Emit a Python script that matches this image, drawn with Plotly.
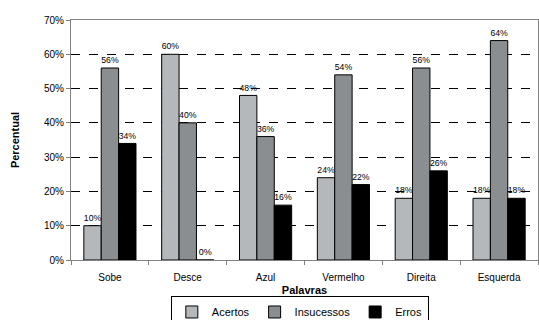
import plotly.graph_objects as go

categories = ["Sobe", "Desce", "Azul", "Vermelho", "Direita", "Esquerda"]
acertos = [10, 60, 48, 24, 18, 18]
insucessos = [56, 40, 36, 54, 56, 64]
erros = [34, 0, 16, 22, 26, 18]
y_ticks = [0, 10, 20, 30, 40, 50, 60, 70]
y_tick_labels = [f"{v}%" for v in y_ticks]

series = [
    ("Acertos", acertos, "#b5b8ba"),
    ("Insucessos", insucessos, "#8b8e91"),
    ("Erros", erros, "#000000"),
]

fig = go.Figure()
for name, vals, col in series:
    fig.add_trace(go.Bar(
        x=categories, y=vals, name=name,
        marker=dict(color=col, line=dict(color="#000000", width=1)),
        text=[f"{v}%" for v in vals], textposition="outside",
        textfont=dict(size=9, color="#000000"), cliponaxis=False,
    ))

fig.update_layout(
    width=539, height=320,
    margin=dict(l=71, r=1, t=20, b=60, autoexpand=False),
    paper_bgcolor="white", plot_bgcolor="white",
    font=dict(family="Arial, Liberation Sans, sans-serif", size=10, color="#000000"),
    barmode="group", bargap=0.33, bargroupgap=0,
    showlegend=True,
    legend=dict(orientation="h", x=0.49, xanchor="center",
                y=-0.152, yanchor="top",
                bordercolor="#000000", borderwidth=1, bgcolor="white",
                font=dict(size=11), itemwidth=30, tracegroupgap=0),
)
fig.update_xaxes(
    showline=True, linecolor="#808080", linewidth=1, mirror=True,
    ticks="outside", tickson="boundaries", ticklen=4, tickcolor="#808080",
    tickfont=dict(size=10), ticklabelstandoff=8, automargin=False,
    title=dict(text="<b>Palavras</b>", font=dict(size=11), standoff=4),
)
fig.update_yaxes(
    range=[0, 70], tickvals=y_ticks, ticktext=y_tick_labels,
    showline=True, linecolor="#808080", linewidth=1, mirror=True,
    ticks="outside", ticklen=4, tickcolor="#808080",
    showgrid=True, gridcolor="#000000", griddash="dash", gridwidth=1,
    zeroline=False, automargin=False,
    tickfont=dict(size=10),
    title=dict(text="<b>Percentual</b>", font=dict(size=11), standoff=22),
)

fig.write_html("out.html")
